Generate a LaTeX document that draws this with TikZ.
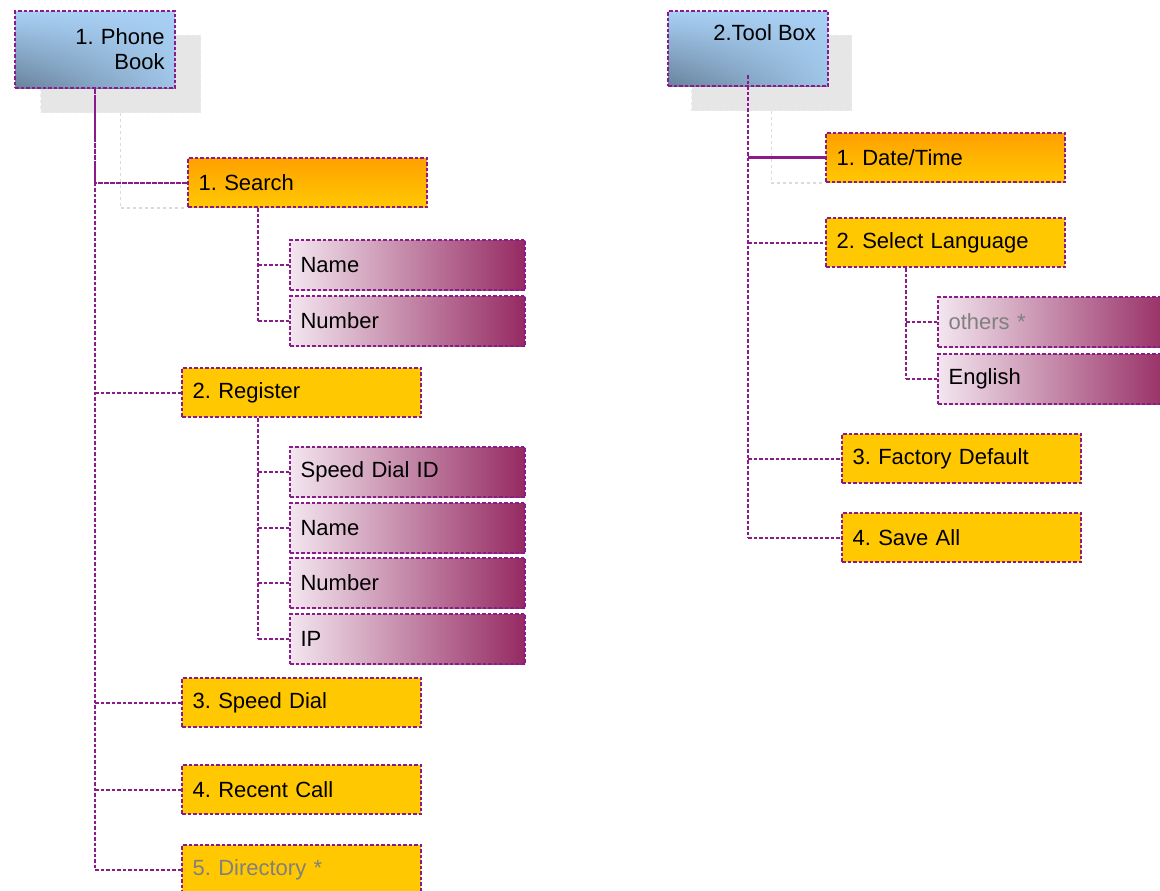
\documentclass[tikz,border=0pt]{standalone}
\usepackage{fontspec}
\setmainfont{Liberation Sans}
\usetikzlibrary{fadings,calc}
\definecolor{pur}{HTML}{8B1A8B}
\definecolor{gold}{HTML}{FFC800}
\definecolor{orng}{HTML}{FFA000}
\definecolor{plight}{HTML}{F3E6EF}
\definecolor{pdark}{HTML}{952A62}
\definecolor{blight}{HTML}{A9D1F5}
\definecolor{bdark}{HTML}{68829C}
\definecolor{shade}{HTML}{E6E6E6}
\definecolor{sline}{HTML}{DADADA}
\definecolor{gtext}{HTML}{808080}
\tikzfading[name=fadeleft, left color=transparent!100, right color=transparent!0]
\frenchspacing
\begin{document}
\begin{tikzpicture}[x=1pt,y=-1pt,
  every node/.style={font=\fontsize{22}{25}\selectfont},
  base/.style={draw=pur, line width=2.2pt, dash pattern=on 3.5pt off 2pt,
    anchor=north west, inner xsep=10.5pt, inner ysep=0pt, align=left},
  ob/.style={base, text width=218pt, minimum height=49pt, top color=orng, bottom color=gold},
  gb/.style={base, text width=218pt, minimum height=49pt, fill=gold},
  pb/.style={base, text width=214pt, minimum height=50pt, left color=plight, right color=pdark},
  bb/.style={base, minimum width=160pt, align=right,
    preaction={top color=blight, bottom color=bdark},
    preaction={fill=blight, path fading=fadeleft, fill opacity=0.85}},
  shadowbox/.style={fill=shade, draw=shade!80!white, line width=1pt, dashed,
    anchor=north west, inner sep=0pt, minimum width=160pt},
  conn/.style={draw=pur, line width=2.2pt, dash pattern=on 3.5pt off 2pt},
  solidconn/.style={draw=pur, line width=2.4pt},
  sl/.style={draw=sline, line width=1.6pt, dashed}
]
\useasboundingbox (0,0) rectangle (1160,891);
\clip (0,0) rectangle (1160,891);

% shadows
\node[shadowbox, minimum height=77pt] (pbs) at (40,35) {};
\node[shadowbox, minimum height=75pt] (tbs) at (691,35) {};

% phone book side
\node[bb, minimum height=77pt, text width=139pt] (pbk) at (14,10) {1. Phone\\Book};
\node[ob] (s1) at (187,157) {1. Search};
\node[pb] (s1a) at (289,239) {Name};
\node[pb] (s1b) at (289,295) {Number};
\node[gb] (r) at (181,367) {2. Register};
\node[pb] (ra) at (289,446) {Speed Dial ID};
\node[pb] (rb) at (289,502) {Name};
\node[pb] (rc) at (289,557) {Number};
\node[pb] (rd) at (289,613) {IP};
\node[gb] (sd) at (181,677) {3. Speed Dial};
\node[gb] (rcall) at (181,764) {4. Recent Call};
\node[gb, text=gtext] (dir) at (181,844) {5. Directory *};

% tool box side
\node[bb, minimum height=75pt,
  label={[shift={(-13pt,-14pt)}, anchor=north east, inner sep=0pt, font=\fontsize{22}{25}\selectfont]north east:2.Tool Box}] (tbx) at (667,10) {};
\node[ob] (t1) at (825,132) {1. Date/Time};
\node[gb] (t2) at (825,217) {2. Select Language};
\node[pb, text=gtext] (t2a) at (937,296) {others *};
\node[pb] (t2b) at (937,353) {English};
\node[gb] (t3) at (841,433) {3. Factory Default};
\node[gb] (t4) at (841,512) {4. Save All};

% shadow connector lines
\draw[sl] (pbs.south) -- (pbs.south |- s1.south west) -- (s1.south west);
\draw[sl] (tbs.south) -- (tbs.south |- t1.south west) -- (t1.south west);

% phone book connectors
\draw[conn] (pbk.south) -- (pbk.south |- dir.west);
\draw[pur, line width=2.2pt, dash pattern=on 5pt off 1pt] (pbk.south) -- (pbk.south |- s1.west) -- (s1.west);
\foreach \n in {r,sd,rcall,dir} \draw[conn] (pbk.south |- \n.west) -- (\n.west);
\coordinate (s1k) at ([xshift=71pt]s1.south west);
\draw[conn] (s1k) -- (s1k |- s1b.west);
\foreach \n in {s1a,s1b} \draw[conn] (s1k |- \n.west) -- (\n.west);
\coordinate (rk) at ([xshift=77pt]r.south west);
\draw[conn] (rk) -- (rk |- rd.west);
\foreach \n in {ra,rb,rc,rd} \draw[conn] (rk |- \n.west) -- (\n.west);

% tool box connectors
\draw[conn] ([yshift=12pt]tbx.south) -- (tbx.south |- t4.west);
\draw[solidconn] (tbx.south |- t1.west) -- (t1.west);
\foreach \n in {t2,t3,t4} \draw[conn] (tbx.south |- \n.west) -- (\n.west);
\coordinate (t2k) at ([xshift=81pt]t2.south west);
\draw[conn] (t2k) -- (t2k |- t2b.west);
\foreach \n in {t2a,t2b} \draw[conn] (t2k |- \n.west) -- (\n.west);
\end{tikzpicture}
\end{document}
